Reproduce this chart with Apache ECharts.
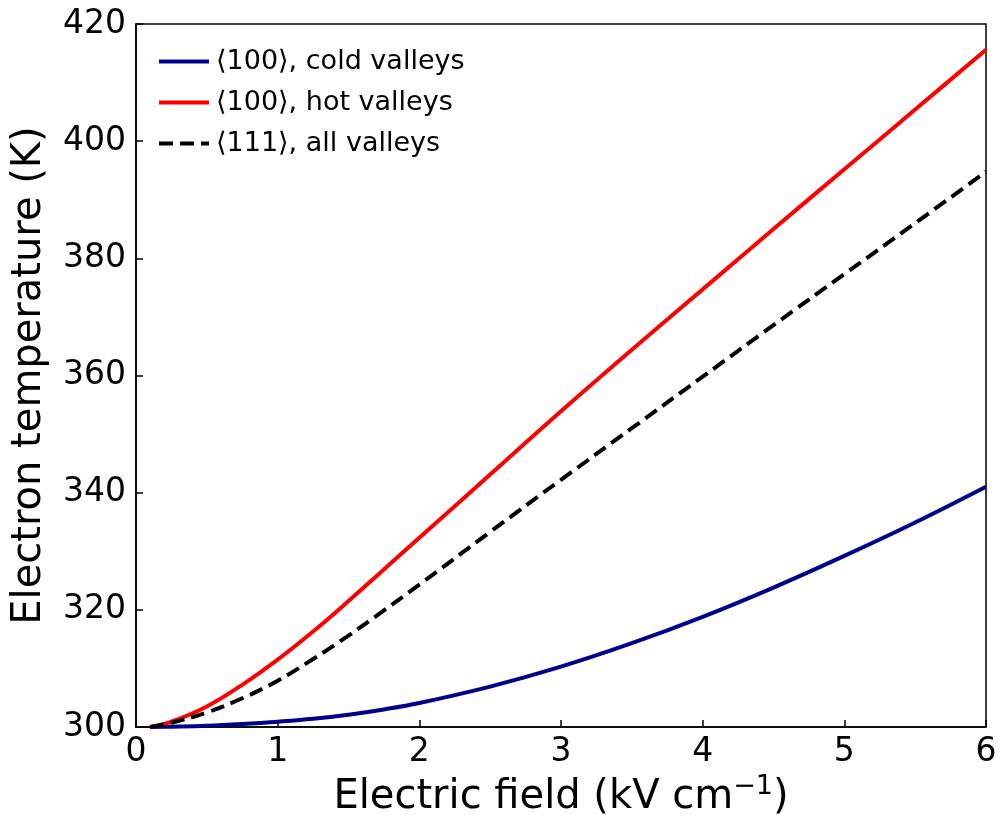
<!DOCTYPE html>
<html>
<head>
<meta charset="utf-8">
<script src="https://cdn.jsdelivr.net/npm/echarts@6/dist/echarts.min.js"></script>
<style>html,body{margin:0;padding:0;background:#fff}#c{width:998px;height:815px}</style>
</head>
<body>
<div id="c"></div>
<script>
const field = [0.1, 0.25, 0.5, 0.75, 1, 1.25, 1.5, 1.75, 2, 2.5, 3, 3.5, 4, 4.5, 5, 5.5, 6];
const coldValleys = [300, 300.05, 300.2, 300.5, 300.9, 301.4, 302.1, 303.0, 304.1, 306.9, 310.3, 314.3, 318.8, 323.8, 329.2, 334.9, 341.0];
const hotValleys = [300, 300.9, 303.5, 307.2, 311.5, 316.3, 321.5, 326.9, 332.3, 343.1, 353.9, 364.4, 374.7, 385.0, 395.2, 405.4, 415.6];
const allValleys = [300, 300.7, 302.5, 304.9, 307.9, 311.6, 315.6, 319.9, 324.3, 333.3, 342.2, 351.0, 359.8, 368.6, 377.3, 386.0, 394.8];
const seriesNames = ['⟨100⟩, cold valleys', '⟨100⟩, hot valleys', '⟨111⟩, all valleys'];
const xTicks = [0, 1, 2, 3, 4, 5, 6];
const yTicks = [300, 320, 340, 360, 380, 400, 420];

const pair = (xs, ys) => xs.map((x, i) => [x, ys[i]]);
const font = 'DejaVu Sans';
const chart = echarts.init(document.getElementById('c'), null, {renderer: 'canvas'});
chart.setOption({
  backgroundColor: '#fff',
  animation: false,
  grid: {left: 136, right: 12, top: 24, bottom: 88, outerBoundsMode: 'none', containLabel: false,
    show: true, borderColor: '#000', borderWidth: 1.5, backgroundColor: 'transparent'},
  legend: {
    orient: 'vertical', left: 157, top: 48, padding: 0, itemWidth: 50, itemHeight: 14, itemGap: 14,
    itemStyle: {opacity: 0},
    lineStyle: {width: 4},
    textStyle: {fontFamily: font, fontSize: 27, color: '#000', padding: [0, 0, 0, 2]},
    data: seriesNames
  },
  xAxis: {
    type: 'value', min: xTicks[0], max: xTicks[xTicks.length - 1], interval: 1,
    name: 'Electric field (kV cm{sup|−1})', nameLocation: 'middle', nameGap: 46,
    nameTextStyle: {fontFamily: font, fontSize: 40, color: '#000', lineHeight: 48,
      rich: {sup: {fontFamily: font, fontSize: 27, color: '#000', verticalAlign: 'top', lineHeight: 30}}},
    axisLine: {show: true, onZero: false, lineStyle: {color: '#000', width: 1.5}},
    axisTick: {show: true, inside: true, length: 7, lineStyle: {color: '#000', width: 1.5}},
    axisLabel: {fontFamily: font, fontSize: 33, color: '#000', margin: 9},
    splitLine: {show: false}
  },
  yAxis: {
    type: 'value', min: yTicks[0], max: yTicks[yTicks.length - 1], interval: 20,
    name: 'Electron temperature (K)', nameLocation: 'middle', nameGap: 86,
    nameTextStyle: {fontFamily: font, fontSize: 40, color: '#000'},
    axisLine: {show: true, onZero: false, lineStyle: {color: '#000', width: 1.5}},
    axisTick: {show: true, inside: true, length: 7, lineStyle: {color: '#000', width: 1.5}},
    axisLabel: {fontFamily: font, fontSize: 33, color: '#000', margin: 10},
    splitLine: {show: false}
  },
  series: [
    {name: seriesNames[0], type: 'line', data: pair(field, coldValleys), smooth: 0.4, symbol: 'none', color: '#00008B', lineStyle: {width: 4, color: '#00008B'}},
    {name: seriesNames[1], type: 'line', data: pair(field, hotValleys), smooth: 0.4, symbol: 'none', color: '#FF0000', lineStyle: {width: 4, color: '#FF0000'}},
    {name: seriesNames[2], type: 'line', data: pair(field, allValleys), smooth: 0.4, symbol: 'none', color: '#000', lineStyle: {width: 4, color: '#000', type: [14, 7]}}
  ]
});
</script>
</body>
</html>
